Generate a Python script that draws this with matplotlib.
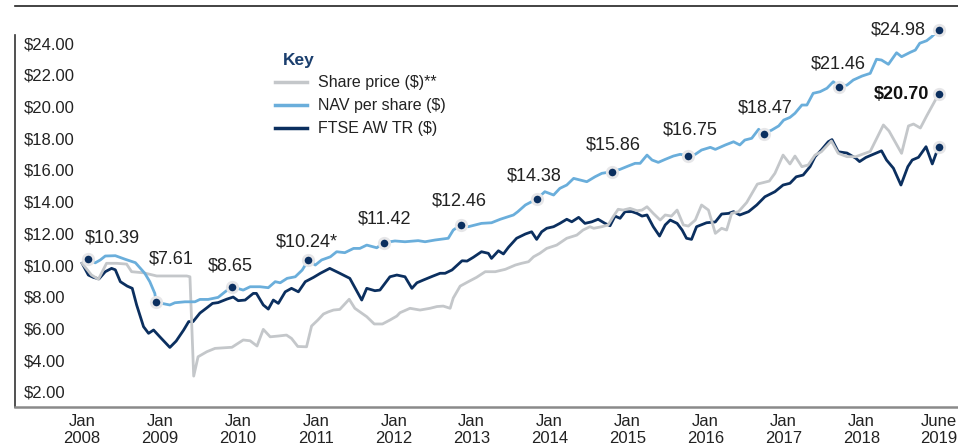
import numpy as np
import matplotlib
matplotlib.use('Agg')
import matplotlib.pyplot as plt
from matplotlib.lines import Line2D

plt.rcParams['font.family'] = ['Liberation Sans', 'DejaVu Sans']

# months counted from the start of the chart (Jan 2008)
share_m = [0.0, 1.5, 2.6, 3.9, 5.5, 7.1, 7.9, 9.8, 11.9, 16.7, 17.2, 17.8, 18.5, 19.9, 21.2, 23.9,
           25.7, 26.8, 27.9, 28.9, 30.0, 31.3, 32.6, 33.4, 34.4, 35.8, 36.6, 37.6, 38.5, 39.3,
           40.1, 41.1, 42.6, 43.5, 45.4, 46.6, 47.9, 49.1, 50.2, 50.7, 52.3, 53.9, 55.5, 56.6,
           57.6, 58.7, 59.2, 60.3, 61.6, 62.9, 64.3, 65.9, 67.5, 69.1, 70.1, 71.2, 72.0, 73.0,
           74.1, 75.7, 77.3, 78.9, 79.9, 81.0, 81.6, 82.9, 83.9, 84.7, 85.5, 86.3, 87.4, 88.5,
           89.3, 90.1, 91.1, 92.2, 93.0, 94.0, 94.9, 95.9, 96.7, 97.8, 98.8, 99.9, 101.0, 102.0,
           102.8, 103.6, 104.7, 106.0, 107.7, 109.6, 110.5, 111.8, 112.9, 113.7, 114.8, 115.8,
           116.9, 117.9, 119.5, 120.6, 122.0, 123.4, 125.7, 127.8, 128.7, 130.7, 131.8, 132.6,
           133.7, 134.7, 136.6]
share_v = [10.11, 9.37, 9.10, 10.11, 10.11, 10.06, 9.58, 9.51, 9.31, 9.31, 9.26, 2.99, 4.21, 4.53,
           4.74, 4.81, 5.27, 5.22, 4.89, 5.94, 5.47, 5.52, 5.58, 5.37, 4.86, 4.84, 6.15, 6.53,
           6.91, 7.05, 7.16, 7.20, 7.84, 7.27, 6.74, 6.28, 6.28, 6.53, 6.78, 6.99, 7.27, 7.16,
           7.27, 7.38, 7.41, 7.27, 7.92, 8.67, 8.95, 9.22, 9.58, 9.58, 9.73, 10.00, 10.11, 10.21,
           10.52, 10.74, 11.05, 11.26, 11.69, 11.89, 12.21, 12.42, 12.32, 12.42, 12.53, 13.05,
           13.52, 13.47, 13.58, 13.43, 13.47, 13.68, 13.26, 12.84, 13.16, 13.09, 13.47, 12.53,
           12.46, 12.84, 13.79, 13.47, 12.00, 12.32, 12.21, 13.26, 13.37, 13.95, 15.11, 15.30,
           15.79, 16.94, 16.38, 16.88, 16.21, 16.31, 16.94, 17.15, 17.83, 17.05, 16.84, 16.84,
           17.17, 18.84, 18.46, 17.05, 18.78, 18.90, 18.65, 19.41, 20.78]

nav_m = [0.9, 2.1, 2.9, 3.7, 5.3, 6.9, 8.5, 10.0, 10.8, 11.6, 11.8, 14.0, 14.8, 16.4, 18.0, 18.8,
         20.1, 21.7, 22.8, 23.9, 25.7, 26.8, 28.4, 29.7, 30.8, 31.6, 32.7, 34.0, 35.1, 36.1,
         37.2, 38.2, 39.6, 40.6, 41.9, 43.3, 44.3, 45.4, 47.0, 48.1, 49.9, 51.5, 53.6, 54.7,
         56.3, 58.4, 59.2, 60.4, 61.6, 63.7, 65.3, 66.7, 68.8, 69.5, 70.7, 71.7, 72.5, 73.8,
         75.2, 76.2, 77.3, 78.4, 79.4, 80.5, 81.8, 82.9, 84.5, 85.8, 87.1, 88.2, 89.0, 90.1,
         90.9, 91.9, 93.0, 94.3, 95.4, 96.7, 97.8, 98.8, 100.2, 101.0, 102.6, 103.9, 104.9,
         105.7, 106.8, 107.9, 108.7, 110.0, 111.1, 111.9, 112.9, 113.7, 114.8, 115.6, 116.6,
         117.7, 118.8, 119.8, 120.8, 122.0, 123.0, 124.4, 125.7, 126.7, 127.5, 128.6, 129.9,
         130.7, 132.1, 132.9, 133.6, 134.7, 135.5, 136.6]
nav_v = [10.38, 10.14, 10.32, 10.57, 10.59, 10.36, 10.15, 9.48, 8.95, 8.21, 7.65, 7.48, 7.62,
         7.68, 7.68, 7.83, 7.83, 7.96, 8.31, 8.63, 8.42, 8.63, 8.63, 8.57, 8.95, 8.88, 9.16,
         9.26, 9.68, 10.32, 10.00, 10.32, 10.52, 10.84, 10.78, 11.05, 11.05, 11.26, 11.09,
         11.41, 11.52, 11.47, 11.54, 11.47, 11.58, 11.69, 12.21, 12.53, 12.42, 12.63, 12.67,
         12.89, 13.16, 13.37, 13.79, 14.00, 14.15, 14.63, 14.42, 14.84, 15.05, 15.47, 15.37,
         15.26, 15.57, 15.79, 15.89, 16.04, 16.25, 16.42, 16.42, 16.94, 16.63, 16.48, 16.67,
         16.88, 16.99, 16.88, 16.99, 17.26, 17.43, 17.30, 17.58, 17.78, 17.58, 17.89, 18.00,
         18.57, 18.27, 18.52, 18.78, 19.15, 19.32, 19.58, 20.10, 20.10, 20.84, 20.94, 21.16,
         21.57, 21.26, 21.36, 21.68, 21.93, 22.10, 22.99, 22.94, 22.67, 23.40, 23.15, 23.43,
         23.57, 24.00, 24.16, 24.41, 24.84]

ftse_m = [0.0, 1.0, 1.8, 2.7, 3.7, 4.7, 5.3, 6.1, 7.2, 8.0, 8.7, 9.8, 10.6, 11.4, 12.4, 14.0,
          15.0, 16.2, 17.0, 17.7, 18.8, 19.8, 20.8, 21.7, 23.1, 24.1, 24.9, 26.0, 27.3, 27.8,
          28.9, 29.7, 30.5, 31.3, 32.4, 33.4, 34.5, 35.6, 36.9, 38.0, 39.5, 41.1, 42.7, 44.6,
          45.4, 46.7, 47.5, 49.1, 50.2, 51.5, 52.6, 53.4, 54.4, 56.0, 57.1, 57.9, 59.0, 60.6,
          61.4, 62.4, 63.7, 64.8, 65.3, 66.4, 67.2, 68.0, 69.3, 70.7, 71.7, 72.5, 73.3, 74.1,
          75.2, 76.2, 77.3, 78.1, 79.2, 80.2, 81.3, 82.3, 83.4, 84.2, 85.0, 85.8, 86.6, 87.7,
          88.5, 89.3, 90.1, 91.1, 92.1, 93.0, 93.8, 94.9, 95.7, 96.4, 97.2, 98.0, 99.6, 101.0,
          102.0, 103.1, 103.9, 104.9, 106.3, 107.6, 108.9, 110.5, 111.8, 112.9, 113.9, 115.0,
          116.1, 116.9, 117.9, 119.0, 119.6, 120.6, 122.0, 123.4, 124.0, 125.0, 127.5, 128.3,
          129.4, 130.6, 131.7, 132.4, 133.4, 134.6, 135.6, 136.6]
ftse_v = [10.11, 9.37, 9.22, 9.13, 9.58, 9.79, 9.70, 8.95, 8.67, 8.53, 7.48, 6.11, 5.69, 5.90,
          5.47, 4.80, 5.20, 5.90, 6.43, 6.43, 6.97, 7.27, 7.58, 7.63, 7.85, 7.98, 7.75, 7.79,
          8.21, 8.21, 7.48, 7.22, 7.79, 7.58, 8.31, 8.53, 8.31, 8.95, 9.22, 9.48, 9.79, 9.48,
          9.16, 7.79, 8.53, 8.38, 8.42, 9.26, 9.37, 9.26, 8.53, 8.88, 9.05, 9.31, 9.48, 9.48,
          9.69, 10.27, 10.25, 10.49, 10.84, 10.74, 10.42, 10.90, 10.70, 11.12, 11.69, 11.96,
          12.10, 11.62, 12.10, 12.32, 12.42, 12.63, 12.89, 12.73, 13.01, 12.63, 12.73, 12.89,
          12.63, 12.48, 13.09, 12.95, 13.37, 13.37, 13.26, 13.09, 13.16, 12.42, 11.83, 12.53,
          12.84, 12.63, 12.21, 11.69, 11.62, 12.42, 12.67, 12.72, 13.22, 13.26, 13.37, 13.16,
          13.37, 13.79, 14.31, 14.63, 15.05, 15.16, 15.57, 15.68, 16.21, 16.84, 17.26, 17.78,
          17.92, 17.15, 17.07, 16.74, 16.53, 16.79, 17.21, 16.63, 16.11, 15.05, 16.21, 16.63,
          16.80, 17.47, 16.38, 17.47]

# year-end NAV markers and their labels
nav_dot_m = [0.9, 11.8, 23.9, 36.1, 48.1, 60.4, 72.5, 84.5, 96.7, 108.7, 120.8, 136.6]
nav_dot_labels = ['$10.39', '$7.61', '$8.65', '$10.24*', '$11.42', '$12.46', '$14.38',
                  '$15.86', '$16.75', '$18.47', '$21.46', '$24.98']
share_last = 20.70

x_tick_labels = ['Jan\n2008', 'Jan\n2009', 'Jan\n2010', 'Jan\n2011', 'Jan\n2012', 'Jan\n2013',
                 'Jan\n2014', 'Jan\n2015', 'Jan\n2016', 'Jan\n2017', 'Jan\n2018', 'June\n2019']
y_ticks = [2, 4, 6, 8, 10, 12, 14, 16, 18, 20, 22, 24]

GREY = '#c4c7ca'
LIGHT = '#6aaedb'
NAVY = '#0b2f5f'

fig = plt.figure(figsize=(9.58, 4.48), dpi=100)
ax = fig.add_axes([15 / 958, 41 / 448, 943 / 958, 372 / 448])

ax.plot(ftse_m, ftse_v, color=NAVY, lw=2.0, label='FTSE AW TR ($)', zorder=2)
ax.plot(share_m, share_v, color=GREY, lw=2.0, label='Share price ($)**', zorder=3)
ax.plot(nav_m, nav_v, color=LIGHT, lw=2.0, label='NAV per share ($)', zorder=4)

dot_style = dict(marker='o', ms=7.5, mfc=NAVY, mec='#e6e6e8', mew=2, ls='none', zorder=6,
                 clip_on=False)
nav_lookup = dict(zip(nav_m, nav_v))
dot_v = [nav_lookup[m] for m in nav_dot_m]
ax.plot(nav_dot_m, dot_v, **dot_style)
ax.plot(share_m[-1], share_v[-1], **dot_style)
ax.plot(ftse_m[-1], ftse_v[-1], **dot_style)

offsets = [(18, 15), (11, 31), (-1, 15), (-1, 13), (1, 17), (-1, 17), (-2, 17),
           (1, 19), (1, 19), (1, 19), (-1, 16)]
for m, v, lab, off in zip(nav_dot_m[:-1], dot_v[:-1], nav_dot_labels[:-1], offsets):
    ax.annotate(lab, (m, v), xytext=off, textcoords='offset points', ha='center',
                va='center', fontsize=13, color='#222222')
ax.annotate(nav_dot_labels[-1], (nav_dot_m[-1], dot_v[-1]), xytext=(-9, 0),
            textcoords='offset points', ha='right', va='center', fontsize=13, color='#222222',
            annotation_clip=False)
ax.annotate('$%.2f' % share_last, (share_m[-1], share_v[-1]), xytext=(-7, 0),
            textcoords='offset points', ha='right', va='center', fontsize=13,
            fontweight='bold', color='#111111')

ax.set_xlim(-10.7, 139.7)
ax.set_ylim(1.04, 24.52)
ax.set_xticks(np.linspace(0, 136.7, 12))
ax.set_xticklabels(x_tick_labels, fontsize=12, color='#222222')
ax.set_yticks(y_ticks)
ax.set_yticklabels(['$%.2f' % t for t in y_ticks], fontsize=12, color='#222222', ha='left')
ax.tick_params(axis='y', length=0, pad=-6)
ax.tick_params(axis='x', length=0, pad=5)

for s in ['top', 'right']:
    ax.spines[s].set_visible(False)
ax.spines['left'].set_color('#333333')
ax.spines['left'].set_linewidth(1.2)
ax.spines['bottom'].set_color('#8a8a8a')
ax.spines['bottom'].set_linewidth(1.8)

handles = [Line2D([], [], color=GREY, lw=2.5), Line2D([], [], color=LIGHT, lw=2.5),
           Line2D([], [], color=NAVY, lw=2.5)]
leg = ax.legend(handles, ['Share price ($)**', 'NAV per share ($)', 'FTSE AW TR ($)'],
                loc='upper left', bbox_to_anchor=(264 / 958, 1 - 64 / 448),
                bbox_transform=fig.transFigure, frameon=False, fontsize=11.5,
                handlelength=2.0, handletextpad=0.7, labelspacing=0.5, borderpad=0.2)
for t in leg.get_texts():
    t.set_color('#222222')
fig.text(283 / 958, 1 - 61 / 448, 'Key', ha='left', va='center', fontsize=12.5,
         fontweight='bold', color='#1b3f6e')

fig.add_artist(Line2D([15 / 958, 1], [1 - 6 / 448, 1 - 6 / 448], color='#222222', lw=1.2))

fig.savefig('out.png', dpi=100)
